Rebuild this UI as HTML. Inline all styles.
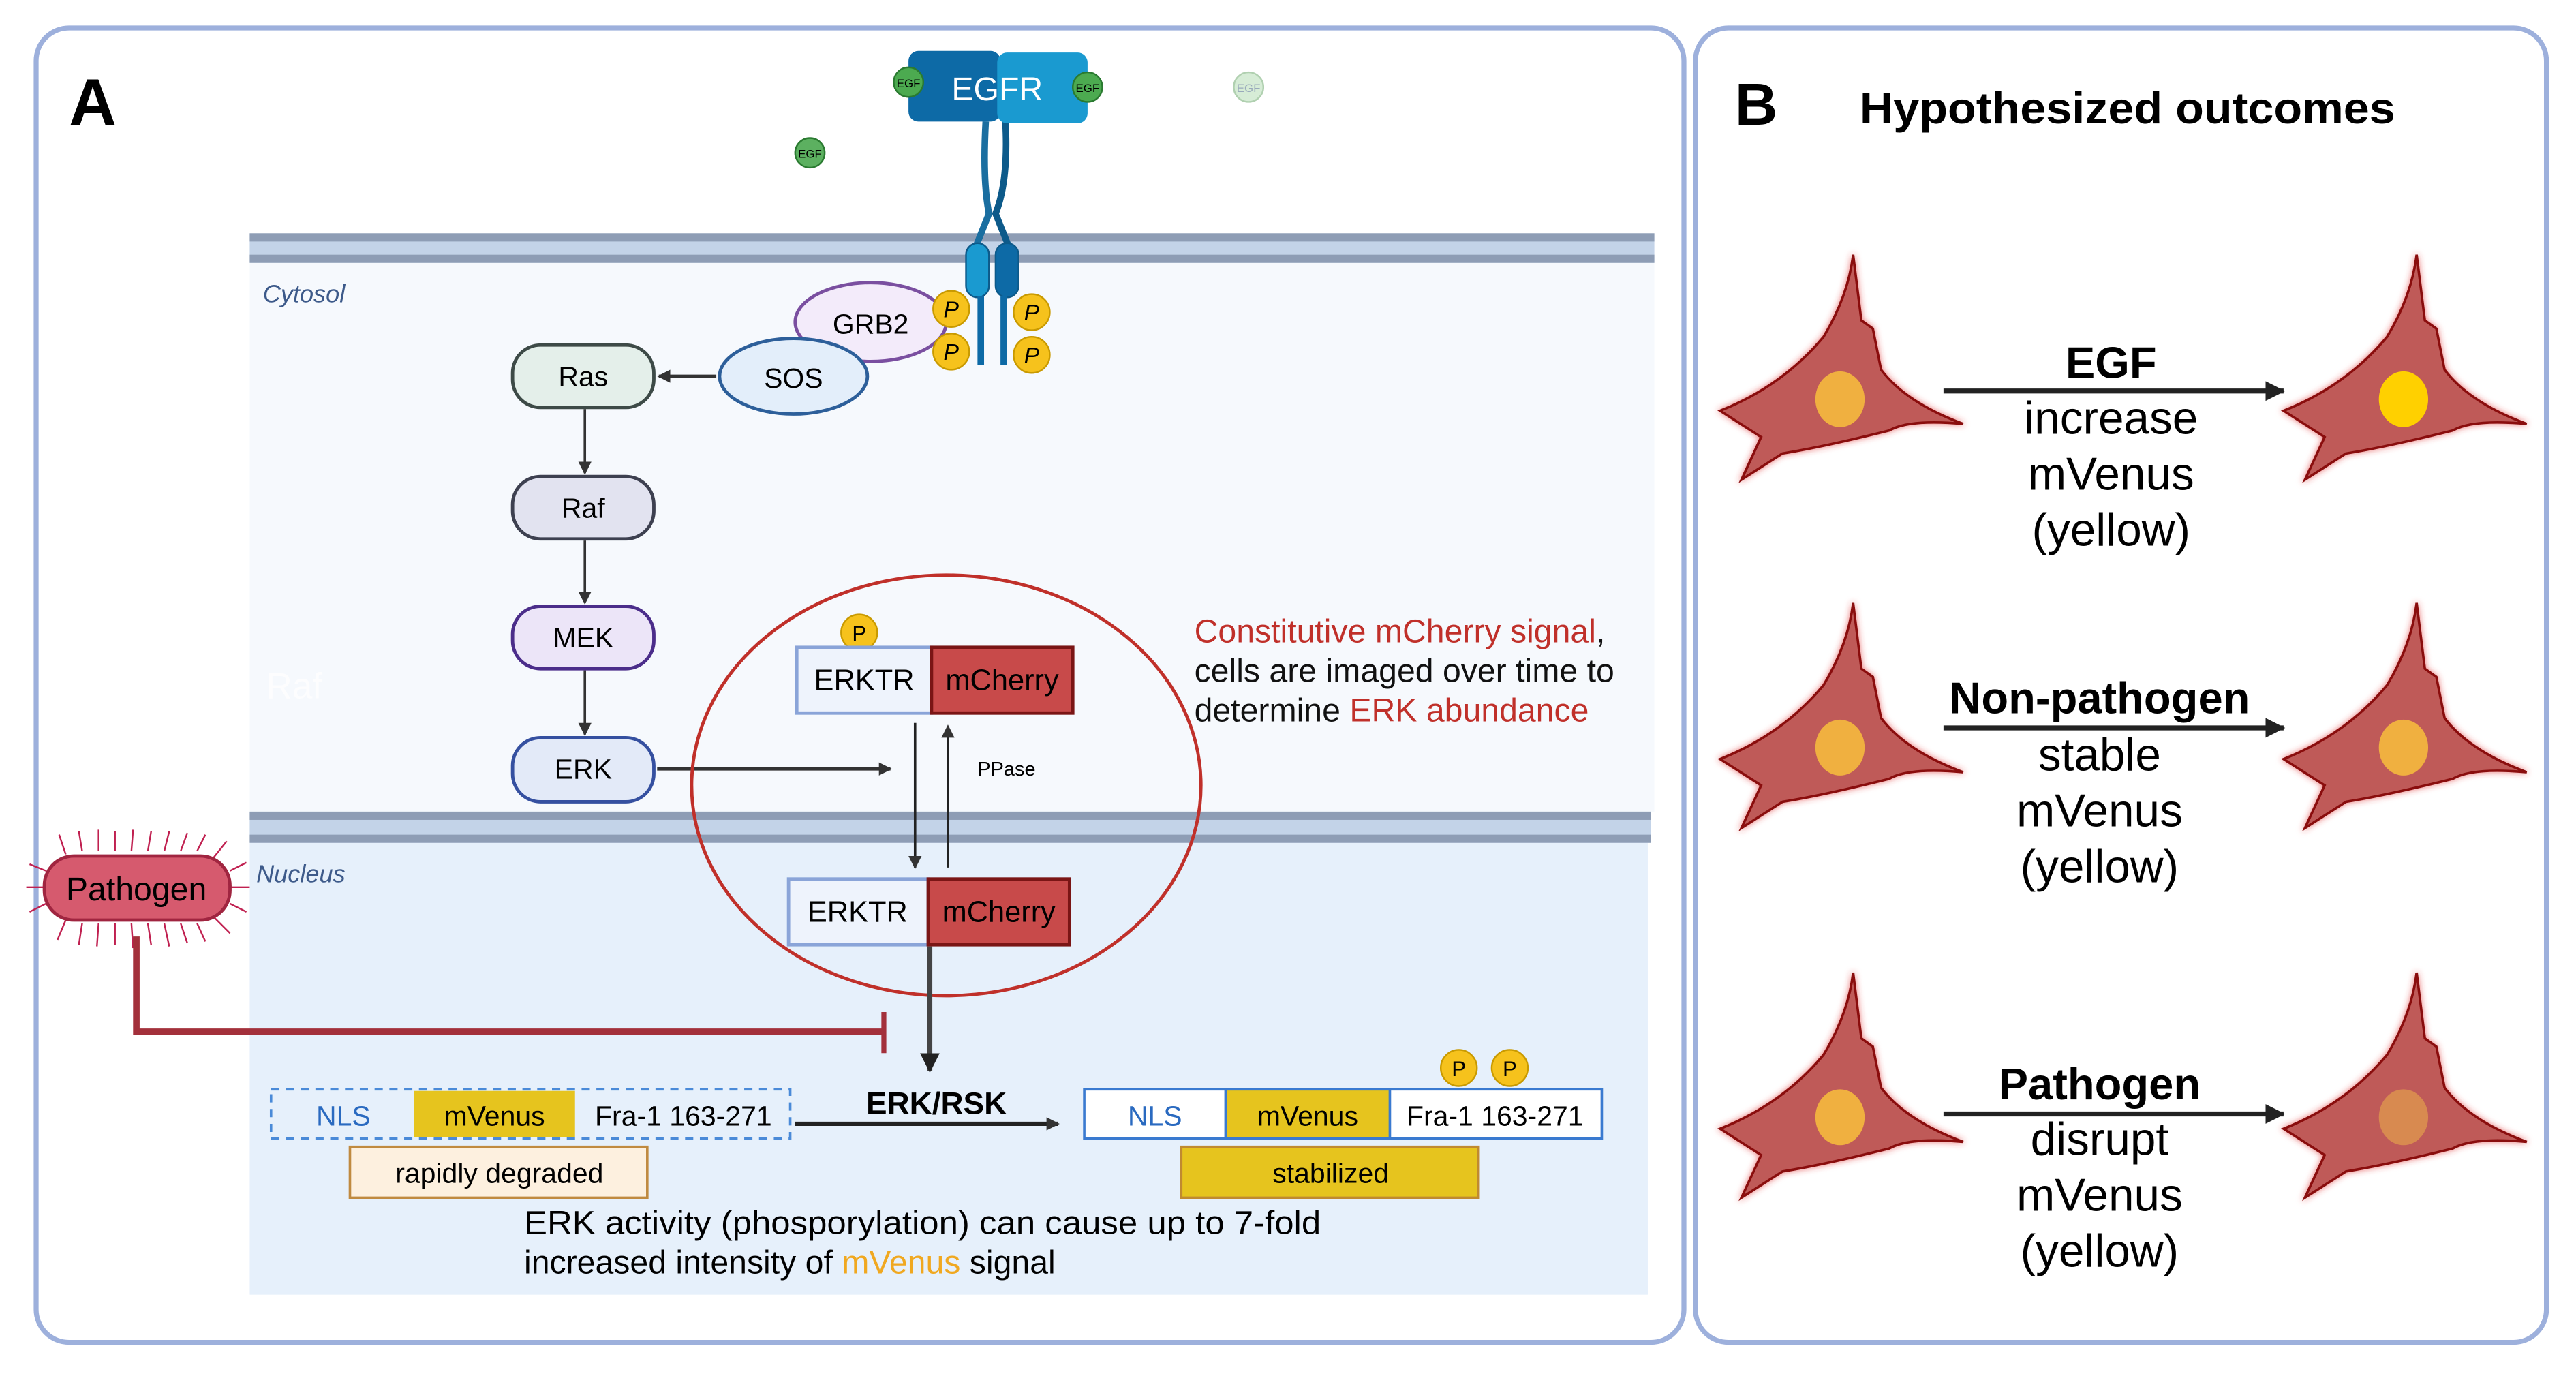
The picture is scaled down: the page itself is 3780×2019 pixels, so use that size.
<!DOCTYPE html>
<html><head><meta charset="utf-8"><style>
html,body{margin:0;padding:0;background:#fff;}
svg{display:block;}
text{font-family:"Liberation Sans",sans-serif;}
</style></head><body>
<svg width="3780" height="2019" viewBox="0 0 1568 837.5" xmlns="http://www.w3.org/2000/svg">
<defs>
<marker id="ah" markerWidth="8" markerHeight="8" refX="7" refY="4" orient="auto" markerUnits="userSpaceOnUse"><path d="M0,0 L8,4 L0,8 Z" fill="#333"/></marker>
<marker id="ahb" markerWidth="12" markerHeight="12" refX="11" refY="6" orient="auto" markerUnits="userSpaceOnUse"><path d="M0,0 L12,6 L0,12 Z" fill="#222"/></marker>
<filter id="glow" x="-20%" y="-20%" width="140%" height="140%"><feDropShadow dx="0" dy="0" stdDeviation="2" flood-color="#e03030" flood-opacity="0.7"/></filter>
<g id="cell">
<path d="M1128,155 L1133,195 L1140,200 L1145,225 Q1160,245 1195,258 Q1162,255 1150,262 Q1110,272 1085,276 L1060,292 L1072,266 L1047,250 Q1085,235 1110,205 Q1125,180 1128,155 Z" fill="#bf5a58" stroke="#8a1010" stroke-width="1.5" filter="url(#glow)"/>
</g>
</defs>
<rect width="1568" height="837.5" fill="#fff"/>
<rect x="22" y="17" width="1003" height="800" rx="20" fill="#fff" stroke="#9db0dc" stroke-width="3"/>
<rect x="1032" y="17" width="518" height="800" rx="20" fill="#fff" stroke="#9db0dc" stroke-width="3"/>
<text x="42" y="76" font-size="40" font-weight="bold">A</text>
<text x="1056" y="76" font-size="36" font-weight="bold">B</text>
<text x="1132" y="75" font-size="27" font-weight="bold" textLength="326" lengthAdjust="spacingAndGlyphs">Hypothesized outcomes</text>

<rect x="152" y="160" width="855" height="334" fill="#f6f9fd"/>
<rect x="152" y="513" width="851" height="275" fill="#e6f0fb"/>
<rect x="152" y="142" width="855" height="18" fill="#c3d3e8"/>
<rect x="152" y="142" width="855" height="5" fill="#8e9db5"/>
<rect x="152" y="155" width="855" height="5" fill="#8e9db5"/>
<rect x="152" y="494" width="853" height="19" fill="#c3d3e8"/>
<rect x="152" y="494" width="853" height="5" fill="#8e9db5"/>
<rect x="152" y="508" width="853" height="5" fill="#8e9db5"/>
<text x="160" y="184" font-size="15" font-style="italic" fill="#3d5a8a">Cytosol</text>
<text x="156" y="537" font-size="15" font-style="italic" fill="#3d5a8a">Nucleus</text>
<text x="162" y="425" font-size="22" fill="#fff" opacity="0.8">Raf</text>

<path d="M600,74 Q598,110 602,130 L594,150" stroke="#1a6ea0" stroke-width="4" fill="none"/>
<path d="M612,74 Q614,110 606,130 L614,150" stroke="#0d5a8a" stroke-width="4" fill="none"/>
<rect x="553" y="31" width="56" height="43" rx="6" fill="#0d6aa6"/>
<rect x="607" y="32" width="55" height="43" rx="6" fill="#1a9ad0"/>
<text x="607" y="61" font-size="20" fill="#fff" text-anchor="middle">EGFR</text>
<rect x="588" y="148" width="14" height="33" rx="7" fill="#1a9ad0" stroke="#0d5a8a"/>
<rect x="606" y="148" width="14" height="33" rx="7" fill="#0d6aa6" stroke="#0d5a8a"/>
<line x1="597" y1="180" x2="597" y2="222" stroke="#0d6aa6" stroke-width="4"/>
<line x1="611" y1="180" x2="611" y2="222" stroke="#0d6aa6" stroke-width="4"/>
<g font-size="7" text-anchor="middle">
<circle cx="553" cy="50" r="9" fill="#4caa50" stroke="#2a7a30"/><text x="553" y="53">EGF</text>
<circle cx="662" cy="53" r="9" fill="#4caa50" stroke="#2a7a30"/><text x="662" y="56">EGF</text>
<circle cx="493" cy="93" r="9" fill="#5cb060" stroke="#2a7a30"/><text x="493" y="96">EGF</text>
<circle cx="760" cy="53" r="9" fill="#d6ecd6" stroke="#b0d0b0"/><text x="760" y="56" fill="#9ab">EGF</text>
</g>
<ellipse cx="530" cy="196" rx="46" ry="24" fill="#f3ebfa" stroke="#7a4fa0" stroke-width="2"/>
<text x="530" y="203" font-size="17" text-anchor="middle">GRB2</text>
<ellipse cx="483" cy="229" rx="45" ry="23" fill="#e3eefa" stroke="#2d5f9a" stroke-width="2"/>
<text x="483" y="236" font-size="17" text-anchor="middle">SOS</text>
<g font-size="14" font-style="italic" text-anchor="middle">
<circle cx="579" cy="188" r="11" fill="#f6c21c" stroke="#c99a00"/><text x="579" y="193">P</text>
<circle cx="579" cy="214" r="11" fill="#f6c21c" stroke="#c99a00"/><text x="579" y="219">P</text>
<circle cx="628" cy="190" r="11" fill="#f6c21c" stroke="#c99a00"/><text x="628" y="195">P</text>
<circle cx="628" cy="216" r="11" fill="#f6c21c" stroke="#c99a00"/><text x="628" y="221">P</text>
</g>
<line x1="436" y1="229" x2="401" y2="229" stroke="#333" stroke-width="2" marker-end="url(#ah)"/>

<g font-size="17" text-anchor="middle" stroke-width="2">
<rect x="312" y="210" width="86" height="38" rx="17" fill="#e4efea" stroke="#3d4a47"/><text x="355" y="235">Ras</text>
<rect x="312" y="290" width="86" height="38" rx="17" fill="#e2e3f0" stroke="#3d4050"/><text x="355" y="315">Raf</text>
<rect x="312" y="369" width="86" height="38" rx="17" fill="#ece5f8" stroke="#4b2d8a"/><text x="355" y="394">MEK</text>
<rect x="312" y="449" width="86" height="39" rx="17" fill="#e3eaf8" stroke="#3550a0"/><text x="355" y="474">ERK</text>
</g>
<g stroke="#333" stroke-width="1.5">
<line x1="356" y1="249" x2="356" y2="288" marker-end="url(#ah)"/>
<line x1="356" y1="329" x2="356" y2="367" marker-end="url(#ah)"/>
<line x1="356" y1="408" x2="356" y2="447" marker-end="url(#ah)"/>
<line x1="400" y1="468" x2="542" y2="468" stroke-width="2" marker-end="url(#ah)"/>
</g>

<ellipse cx="576" cy="478" rx="155" ry="128" fill="none" stroke="#c0302a" stroke-width="2"/>
<circle cx="523" cy="385" r="11" fill="#f6c21c" stroke="#c99a00"/><text x="523" y="390" font-size="13" text-anchor="middle">P</text>
<rect x="485" y="394" width="82" height="40" fill="#eef3fc" stroke="#8aa4d8" stroke-width="2"/>
<rect x="567" y="394" width="86" height="40" fill="#c84a4a" stroke="#7a1515" stroke-width="2"/>
<text x="526" y="420" font-size="18" text-anchor="middle">ERKTR</text>
<text x="610" y="420" font-size="18" text-anchor="middle">mCherry</text>
<line x1="557" y1="440" x2="557" y2="528" stroke="#222" stroke-width="1.5" marker-end="url(#ah)"/>
<line x1="577" y1="528" x2="577" y2="442" stroke="#222" stroke-width="1.5" marker-end="url(#ah)"/>
<text x="595" y="472" font-size="12">PPase</text>
<rect x="480" y="535" width="85" height="40" fill="#eef3fc" stroke="#8aa4d8" stroke-width="2"/>
<rect x="565" y="535" width="86" height="40" fill="#c84a4a" stroke="#7a1515" stroke-width="2"/>
<text x="522" y="561" font-size="18" text-anchor="middle">ERKTR</text>
<text x="608" y="561" font-size="18" text-anchor="middle">mCherry</text>
<line x1="566" y1="576" x2="566" y2="652" stroke="#444" stroke-width="3" marker-end="url(#ahb)"/>

<text x="727" y="391" font-size="20" fill="#c0302a">Constitutive mCherry signal<tspan fill="#111">,</tspan></text>
<text x="727" y="415" font-size="20" fill="#111">cells are imaged over time to</text>
<text x="727" y="439" font-size="20" fill="#111">determine <tspan fill="#c0302a">ERK abundance</tspan></text>

<g stroke="#c02050" stroke-width="1">
<path d="M40,520 L36,508 M50,518 L48,506 M60,518 L60,505 M70,518 L70,506 M80,518 L81,505 M90,518 L92,506 M100,518 L103,506 M110,518 L114,507 M120,518 L125,508 M130,522 L138,512 M40,560 L35,572 M50,562 L48,575 M60,562 L59,576 M70,562 L70,575 M80,562 L81,577 M90,562 L92,575 M100,562 L103,576 M110,562 L114,574 M120,562 L125,573 M130,558 L140,568 M27,540 L16,540 M140,540 L152,540 M28,530 L18,526 M28,550 L18,555 M140,530 L150,525 M140,550 L150,555"/>
</g>
<rect x="27" y="521" width="113" height="39" rx="18" fill="#d65a6e" stroke="#a02540" stroke-width="2"/>
<text x="83" y="548" font-size="20" text-anchor="middle">Pathogen</text>
<path d="M83,570 L83,628 L538,628" stroke="#a3303b" stroke-width="4" fill="none"/>
<line x1="538" y1="616" x2="538" y2="641" stroke="#a3303b" stroke-width="3"/>

<rect x="165" y="663" width="316" height="30" fill="none" stroke="#4a8ad8" stroke-width="1.5" stroke-dasharray="5,4"/>
<rect x="252" y="664" width="98" height="28" fill="#e6c41e"/>
<text x="209" y="685" font-size="17" fill="#2a6ac0" text-anchor="middle">NLS</text>
<text x="301" y="685" font-size="17" text-anchor="middle">mVenus</text>
<text x="416" y="685" font-size="17" text-anchor="middle">Fra-1 163-271</text>
<text x="570" y="678" font-size="19" font-weight="bold" text-anchor="middle">ERK/RSK</text>
<line x1="484" y1="684" x2="644" y2="684" stroke="#222" stroke-width="2.5" marker-end="url(#ah)"/>
<rect x="660" y="663" width="315" height="30" fill="#fff" stroke="#3a7ad0" stroke-width="1.5"/>
<rect x="746" y="663" width="100" height="30" fill="#e6c41e" stroke="#3a7ad0" stroke-width="1.5"/>
<text x="703" y="685" font-size="17" fill="#2a6ac0" text-anchor="middle">NLS</text>
<text x="796" y="685" font-size="17" text-anchor="middle">mVenus</text>
<text x="910" y="685" font-size="17" text-anchor="middle">Fra-1 163-271</text>
<circle cx="888" cy="650" r="11" fill="#f6c21c" stroke="#c99a00"/><text x="888" y="655" font-size="13" text-anchor="middle">P</text>
<circle cx="919" cy="650" r="11" fill="#f6c21c" stroke="#c99a00"/><text x="919" y="655" font-size="13" text-anchor="middle">P</text>
<rect x="213" y="698" width="181" height="31" fill="#fdf0df" stroke="#c08a40" stroke-width="1.5"/>
<text x="304" y="720" font-size="17" text-anchor="middle">rapidly degraded</text>
<rect x="719" y="698" width="181" height="31" fill="#e6c41e" stroke="#c08a30" stroke-width="1.5"/>
<text x="810" y="720" font-size="17" text-anchor="middle">stabilized</text>
<text x="319" y="751" font-size="20" textLength="485" lengthAdjust="spacingAndGlyphs">ERK activity (phosporylation) can cause up to 7-fold</text>
<text x="319" y="775" font-size="20">increased intensity of <tspan fill="#f0a820">mVenus</tspan> signal</text>

<g>
<use href="#cell"/><ellipse cx="1120" cy="243" rx="15" ry="17" fill="#f0b040"/>
<g transform="translate(343,0)"><use href="#cell"/><ellipse cx="1120" cy="243" rx="15" ry="17" fill="#ffd000"/></g>
<line x1="1183" y1="238" x2="1390" y2="238" stroke="#222" stroke-width="3" marker-end="url(#ahb)"/>
<text x="1285" y="230" font-size="27" font-weight="bold" text-anchor="middle">EGF</text>
<text x="1285" y="264" font-size="28" text-anchor="middle">increase</text>
<text x="1285" y="298" font-size="28" text-anchor="middle">mVenus</text>
<text x="1285" y="332" font-size="28" text-anchor="middle">(yellow)</text>
</g>
<g transform="translate(0,212)">
<use href="#cell"/><ellipse cx="1120" cy="243" rx="15" ry="17" fill="#f0b040"/>
<g transform="translate(343,0)"><use href="#cell"/><ellipse cx="1120" cy="243" rx="15" ry="17" fill="#f0b040"/></g>
<line x1="1183" y1="231" x2="1390" y2="231" stroke="#222" stroke-width="3" marker-end="url(#ahb)"/>
</g>
<text x="1278" y="434" font-size="27" font-weight="bold" text-anchor="middle">Non-pathogen</text>
<text x="1278" y="469" font-size="28" text-anchor="middle">stable</text>
<text x="1278" y="503" font-size="28" text-anchor="middle">mVenus</text>
<text x="1278" y="537" font-size="28" text-anchor="middle">(yellow)</text>
<g transform="translate(0,437)">
<use href="#cell"/><ellipse cx="1120" cy="243" rx="15" ry="17" fill="#f0b040"/>
<g transform="translate(343,0)"><use href="#cell"/><ellipse cx="1120" cy="243" rx="15" ry="17" fill="#d88a50"/></g>
<line x1="1183" y1="241" x2="1390" y2="241" stroke="#222" stroke-width="3" marker-end="url(#ahb)"/>
</g>
<text x="1278" y="669" font-size="27" font-weight="bold" text-anchor="middle">Pathogen</text>
<text x="1278" y="703" font-size="28" text-anchor="middle">disrupt</text>
<text x="1278" y="737" font-size="28" text-anchor="middle">mVenus</text>
<text x="1278" y="771" font-size="28" text-anchor="middle">(yellow)</text>
</svg>
</body></html>
